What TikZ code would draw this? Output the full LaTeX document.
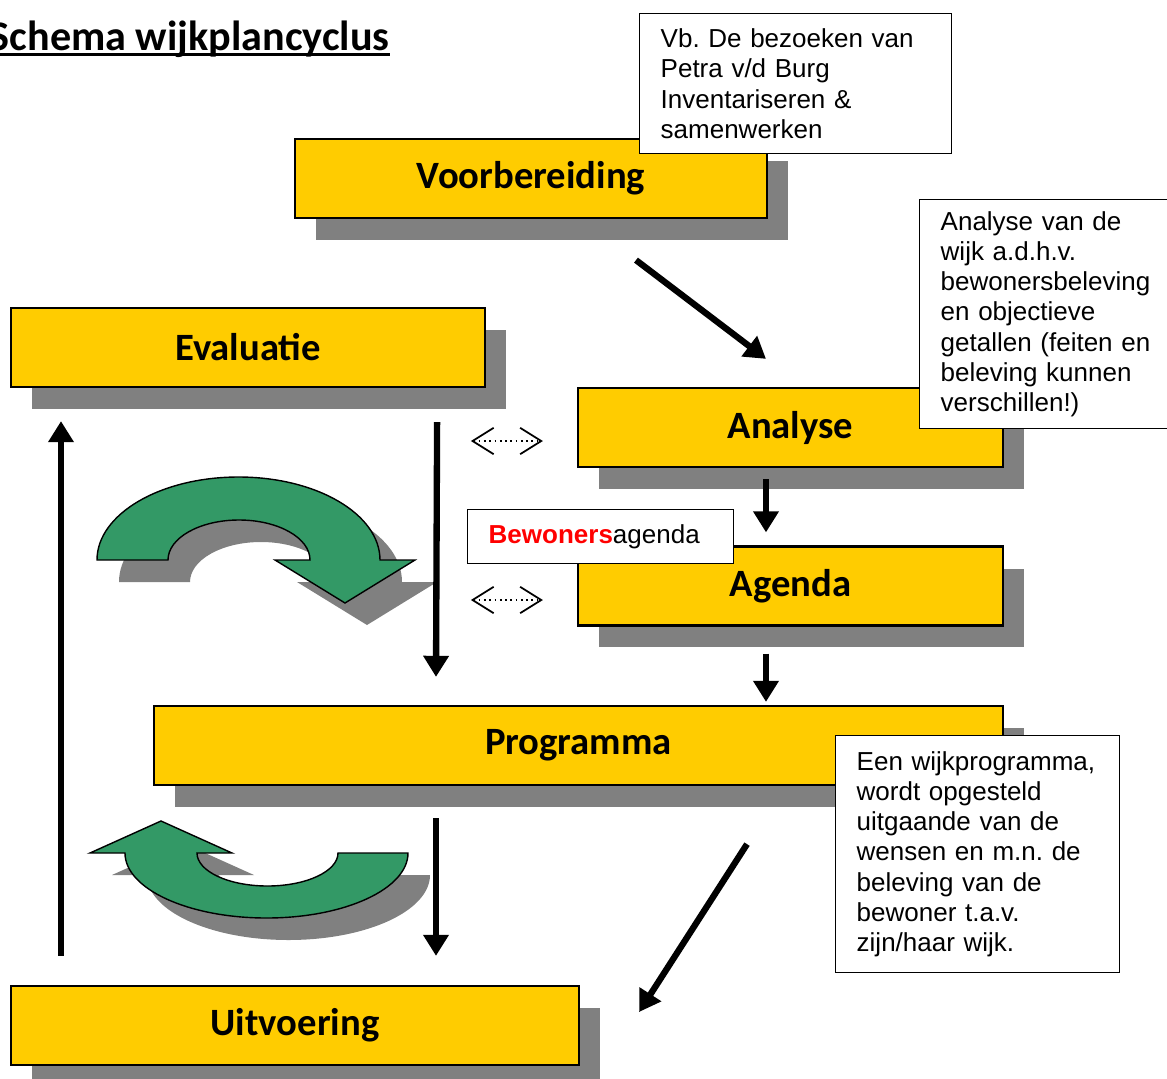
\documentclass[tikz,border=0pt]{standalone}
\usepackage{fontspec}
\setmainfont{Liberation Sans}
\newfontfamily\calibri{Carlito}
\usetikzlibrary{arrows.meta, shadows}
\frenchspacing
\definecolor{wijkgeel}{RGB}{255,204,0}
\definecolor{wijkgroen}{RGB}{51,153,102}
\definecolor{schaduw}{RGB}{128,128,128}
\newcommand{\boogboven}{(97,560) arc[start angle=180, end angle=360, x radius=141.5, y radius=83] -- (415,560) -- (345,603) -- (275,560) -- (310,560) arc[start angle=360, end angle=180, x radius=71, y radius=40] -- cycle}
\newcommand{\boogonder}{(125,853) arc[start angle=180, end angle=0, x radius=141.5, y radius=65] -- (338,853) arc[start angle=0, end angle=180, x radius=70.5, y radius=33] -- (232,853) -- (161,821) -- (90,853) -- cycle}

\begin{document}
\begin{tikzpicture}[x=0.02cm, y=-0.02cm,
  blok/.style={draw, line width=1.3pt, fill=wijkgeel, minimum height=1.58cm, inner sep=0pt,
    font=\calibri\bfseries\fontsize{22}{26}\selectfont,
    general shadow={fill=schaduw, shadow xshift=0.42cm, shadow yshift=-0.44cm}},
  tekstvak/.style={draw, line width=0.8pt, fill=white, anchor=north west, align=left,
    inner xsep=0.42cm, inner ysep=0.1cm, font=\fontsize{14.8}{17.2}\selectfont},
  dikpijl/.style={line width=3.6pt, -{Triangle[width=14pt, length=12pt]}},
  stippelpijl/.style={line width=1pt, dotted,
    {Straight Barb[length=12pt, width=15pt, line width=1pt]}-{Straight Barb[length=12pt, width=15pt, line width=1pt]}},
  groenpijl/.style={draw, line width=0.8pt, fill=wijkgroen}]
\useasboundingbox (0,0) rectangle (1167,1079);

\node[font=\calibri\bfseries\fontsize{24}{28}\selectfont, inner sep=0pt, anchor=base east] (titel) at (390,50) {Schema wijkplancyclus};
\draw[line width=2pt] ([yshift=-2.5pt]titel.base west) -- ([yshift=-2.5pt]titel.base east);

\node[blok, minimum width=9.44cm] (voorb) at (531,178.5) {Voorbereiding};
\node[blok, minimum width=9.48cm] (evaluatie) at (248,347.5) {Evaluatie};
\node[blok, minimum width=8.5cm] (analyse) at (790.5,427.5) {Analyse};
\node[blok, minimum width=8.5cm] (agenda) at (790.5,586) {Agenda};
\node[blok, minimum width=16.98cm] (programma) at (578.5,745.5) {Programma};
\node[blok, minimum width=11.36cm] (uitvoering) at (295,1025.5) {Uitvoering};

\fill[schaduw, shift={(22,22)}] \boogboven;
\path[groenpijl] \boogboven;
\fill[schaduw, shift={(22,22)}] \boogonder;
\path[groenpijl] \boogonder;

\draw[dikpijl] ([shift={(105,41)}]voorb.south) -- ([shift={(-24.5,-28)}]analyse.north);
\draw[dikpijl] ([shift={(-24.5,11)}]analyse.south) -- ([shift={(-24.5,-13)}]agenda.north);
\draw[dikpijl] ([shift={(-24.5,27)}]agenda.south) -- ([shift={(-24.5,-3)}]agenda.south |- programma.north);
\draw[dikpijl] ([shift={(-49,34)}]evaluatie.south east) -- ([shift={(-142.5,-28)}]programma.north);
\draw[dikpijl] ([shift={(-142.5,32)}]programma.south) -- ([shift={(141,-29)}]uitvoering.north);
\draw[dikpijl] ([shift={(-234,-29)}]uitvoering.north) -- ([shift={(-187,33)}]evaluatie.south);
\draw[dikpijl] ([shift={(168.5,58)}]programma.south) -- ([shift={(59,-13.5)}]uitvoering.east);
\draw[stippelpijl] ([shift={(-106,13.5)}]analyse.west) -- ([shift={(-34,13.5)}]analyse.west);
\draw[stippelpijl] ([shift={(-106,14)}]agenda.west) -- ([shift={(-34,14)}]agenda.west);

\node[tekstvak, text width=5.4cm, minimum height=2.8cm] (vb) at (639,13)
  {Vb. De bezoeken van\\Petra v/d Burg\\Inventariseren \&\\samenwerken};
\node[tekstvak, text width=4.36cm, minimum height=4.58cm] (wijkanalyse) at (919,199)
  {Analyse van de\\wijk a.d.h.v.\\bewonersbeleving\\en objectieve\\getallen (feiten en\\beleving kunnen\\verschillen!)};
\node[tekstvak, text width=4.48cm, minimum height=1.08cm] (bewoners) at (467,509)
  {{\color{red}\bfseries Bewoners}agenda};
\node[tekstvak, text width=4.84cm, minimum height=4.74cm] (wijkprog) at (835,735)
  {Een wijkprogramma,\\wordt opgesteld\\uitgaande van de\\wensen en m.n. de\\beleving van de\\bewoner t.a.v.\\zijn/haar wijk.};
\end{tikzpicture}
\end{document}
